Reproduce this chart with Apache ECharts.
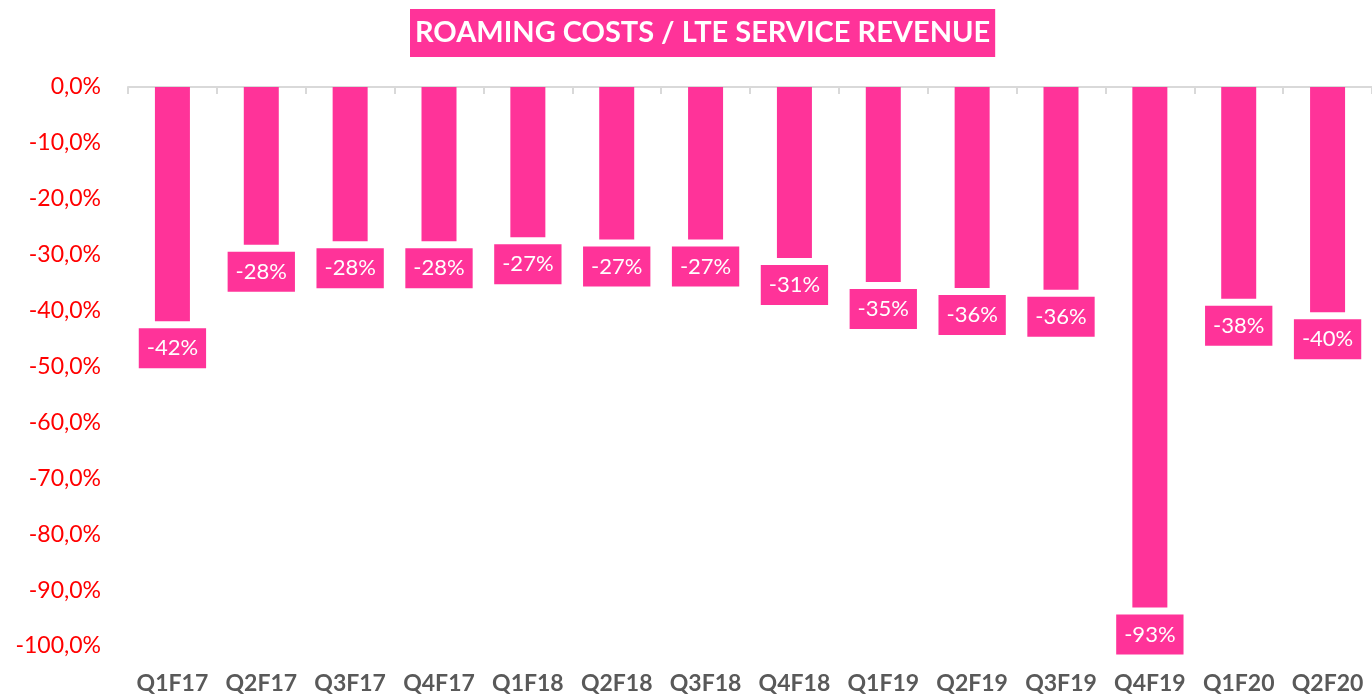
<!DOCTYPE html>
<html>
<head>
<meta charset="utf-8">
<script src="https://cdn.jsdelivr.net/npm/echarts@6/dist/echarts.min.js"></script>
<style>
html,body{margin:0;padding:0;background:#fff;}
#chart{width:1372px;height:695px;}
</style>
</head>
<body>
<div id="chart"></div>
<script>
const categories = ['Q1F17','Q2F17','Q3F17','Q4F17','Q1F18','Q2F18','Q3F18','Q4F18','Q1F19','Q2F19','Q3F19','Q4F19','Q1F20','Q2F20'];
const values = [-41.9, -28.2, -27.6, -27.6, -26.9, -27.3, -27.3, -30.6, -34.9, -35.95, -36.25, -93.1, -37.9, -40.3];
const yMin = -100, yMax = 0, yStep = 10;
const titleText = 'ROAMING COSTS / LTE SERVICE REVENUE';

const PINK = '#FF3399';
const chart = echarts.init(document.getElementById('chart'));
chart.setOption({
  animation: false,
  backgroundColor: '#fff',
  title: {
    text: titleText,
    left: 410,
    top: 9,
    backgroundColor: PINK,
    padding: [6, 5, 6, 5],
    textStyle: { color: '#fff', fontFamily: 'Lato', fontWeight: 'bold', fontSize: 29, lineHeight: 36 }
  },
  grid: { left: 128, right: 0, top: 87, bottom: 48 },
  xAxis: [
    {
      type: 'category', data: categories, position: 'top',
      axisLine: { show: true, lineStyle: { color: '#D9D9D9', width: 2 } },
      axisTick: { show: true, inside: true, length: 7, lineStyle: { color: '#D9D9D9', width: 2 } },
      axisLabel: { show: false }
    },
    {
      type: 'category', data: categories, position: 'bottom',
      axisLine: { show: false }, axisTick: { show: false },
      axisLabel: { interval: 0, hideOverlap: false, color: '#595959', fontFamily: 'Lato', fontWeight: 'bold', fontSize: 23, margin: 26 }
    }
  ],
  yAxis: {
    type: 'value', min: yMin, max: yMax, interval: yStep,
    axisLine: { show: false }, axisTick: { show: false }, splitLine: { show: false },
    axisLabel: {
      color: '#FF0000', fontFamily: 'Lato', fontSize: 23, margin: 27,
      formatter: v => v.toFixed(1).replace('.', ',') + '%'
    }
  },
  series: [{
    type: 'bar', data: values, xAxisIndex: 0, barWidth: 35,
    itemStyle: { color: PINK },
    label: {
      show: true, position: 'bottom', distance: 7,
      backgroundColor: PINK, color: '#fff', padding: [7, 8, 7, 8],
      fontFamily: 'Lato', fontSize: 22, lineHeight: 26,
      formatter: p => Math.round(p.value) + '%'
    }
  }]
});
</script>
</body>
</html>
